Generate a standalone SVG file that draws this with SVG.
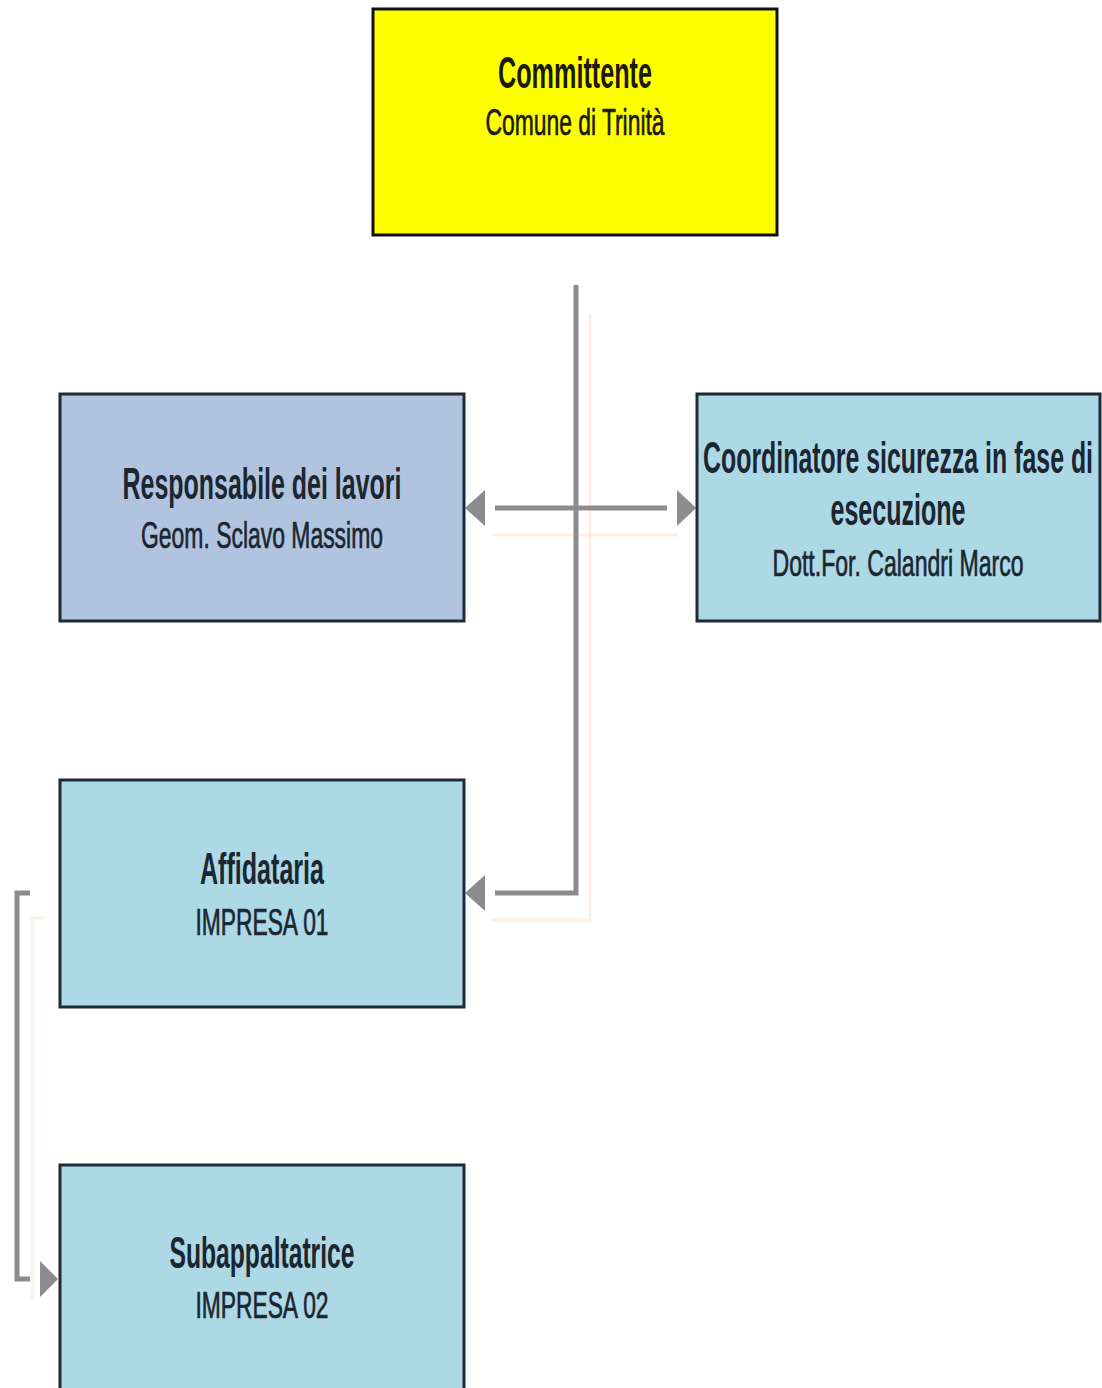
<svg xmlns="http://www.w3.org/2000/svg" width="1102" height="1388" viewBox="0 0 1102 1388">
<style>
.box{stroke:#1e2a36;stroke-width:3}
.t{font-family:"Liberation Sans",Arial,sans-serif;fill:#1b2631;text-anchor:middle}
.h{font-weight:bold;font-size:44px}
.s{font-size:37px;stroke:#1b2631;stroke-width:0.7}
.c{fill:none;stroke:#8c8c8c;stroke-width:5}
.sh{fill:none;stroke:#fbe6d8;stroke-width:3;opacity:0.6}
.ah{fill:#8c8c8c}
</style>
<rect width="1102" height="1388" fill="#ffffff"/>
<g id="connectors">
<path class="sh" d="M590 313 V920 H492"/>
<path class="sh" d="M492 535 H678"/>
<path class="sh" d="M44 918 H32 V1300"/>
<path class="c" d="M576 285 V893 H495"/>
<path class="c" d="M495 508 H667"/>
<path class="c" d="M30 893 H17 V1279 H30"/>
<polygon class="ah" points="465,893 485,875 485,911"/>
<polygon class="ah" points="465,508 485,490 485,526"/>
<polygon class="ah" points="696,508 677,490 677,526"/>
<polygon class="ah" points="58,1279 40,1261 40,1297"/>
</g>
<g id="committente">
<rect class="box" x="373" y="9" width="404" height="226" fill="#ffff00" style="stroke:#111"/>
<text class="t h" x="575" y="88" textLength="154" lengthAdjust="spacingAndGlyphs" style="fill:#1a1a10">Committente</text>
<text class="t s" x="575" y="135" textLength="179" lengthAdjust="spacingAndGlyphs" style="fill:#1a1a10;stroke:#1a1a10">Comune di Trinità</text>
</g>
<g id="responsabile">
<rect class="box" x="60" y="394" width="404" height="227" fill="#b1c4df"/>
<text class="t h" x="262" y="499" textLength="279" lengthAdjust="spacingAndGlyphs">Responsabile dei lavori</text>
<text class="t s" x="262" y="548" textLength="242" lengthAdjust="spacingAndGlyphs">Geom. Sclavo Massimo</text>
</g>
<g id="coordinatore">
<rect class="box" x="697" y="394" width="403" height="227" fill="#add8e6"/>
<text class="t h" x="898" y="473" textLength="390" lengthAdjust="spacingAndGlyphs">Coordinatore sicurezza in fase di</text>
<text class="t h" x="898" y="525" textLength="135" lengthAdjust="spacingAndGlyphs">esecuzione</text>
<text class="t s" x="898" y="576" textLength="251" lengthAdjust="spacingAndGlyphs">Dott.For. Calandri Marco</text>
</g>
<g id="affidataria">
<rect class="box" x="60" y="780" width="404" height="227" fill="#add8e6"/>
<text class="t h" x="262" y="884" textLength="124" lengthAdjust="spacingAndGlyphs">Affidataria</text>
<text class="t s" x="262" y="935" textLength="133" lengthAdjust="spacingAndGlyphs">IMPRESA 01</text>
</g>
<g id="subappaltatrice">
<rect class="box" x="60" y="1165" width="404" height="260" fill="#add8e6"/>
<text class="t h" x="262" y="1268" textLength="185" lengthAdjust="spacingAndGlyphs">Subappaltatrice</text>
<text class="t s" x="262" y="1318" textLength="133" lengthAdjust="spacingAndGlyphs">IMPRESA 02</text>
</g>
</svg>
